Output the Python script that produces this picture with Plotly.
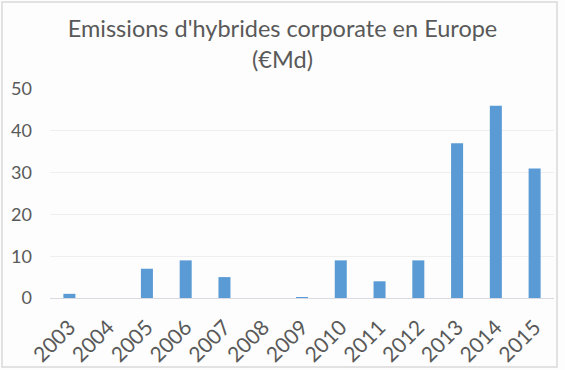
import plotly.graph_objects as go

years = ["2003", "2004", "2005", "2006", "2007", "2008", "2009",
         "2010", "2011", "2012", "2013", "2014", "2015"]
emissions = [1, 0, 7, 9, 5, 0, 0.2, 9, 4, 9, 37, 46, 31]
y_ticks = [0, 10, 20, 30, 40, 50]

W, H = 565, 370
ML, MR, MT, MB = 50, 11, 89, 72
PW, PH = W - ML - MR, H - MT - MB

fig = go.Figure(go.Bar(x=years, y=emissions, marker=dict(color="#5B9BD5", line=dict(width=0))))

fig.update_layout(
    width=W, height=H,
    margin=dict(l=ML, r=MR, t=MT, b=MB, autoexpand=False),
    paper_bgcolor="#FCFDFC", plot_bgcolor="#FCFDFC",
    font=dict(family="Lato, Noto Sans, sans-serif", color="#595959", size=18),
    title=dict(text="Emissions d'hybrides corporate en Europe<br>(€Md)",
               x=0.5, xanchor="center", y=0.90, yanchor="top",
               font=dict(size=23.5, color="#595959")),
    bargap=0.69,
    showlegend=False,
)
fig.update_xaxes(type="category", tickangle=-45, showgrid=False, showline=False,
                 ticks="", tickfont=dict(size=21), automargin=False,
                 ticklabelstandoff=12)
fig.update_yaxes(range=[0, 50], tickvals=y_ticks, showgrid=True, gridcolor="#EFEFEF",
                 gridwidth=1, zeroline=True, zerolinecolor="#D9D9E3", zerolinewidth=1,
                 showline=False, ticks="", tickfont=dict(size=18), automargin=False,
                 ticklabelstandoff=17)
fig.update_layout(shapes=[dict(type="rect", xref="paper", yref="paper",
                               x0=(2 - ML) / PW, x1=(557 - ML) / PW,
                               y0=(H - MB - 367) / PH, y1=(H - MB - 2) / PH,
                               line=dict(color="#D9D9D9", width=1.5))])
fig.write_html("out.html", config={"displayModeBar": False})

with open("out.html", encoding="utf-8") as f:
    html = f.read()
html = html.replace("<head>", "<head><style>html,body{margin:0;padding:0;overflow:hidden;}</style>", 1)
with open("out.html", "w", encoding="utf-8") as f:
    f.write(html)
